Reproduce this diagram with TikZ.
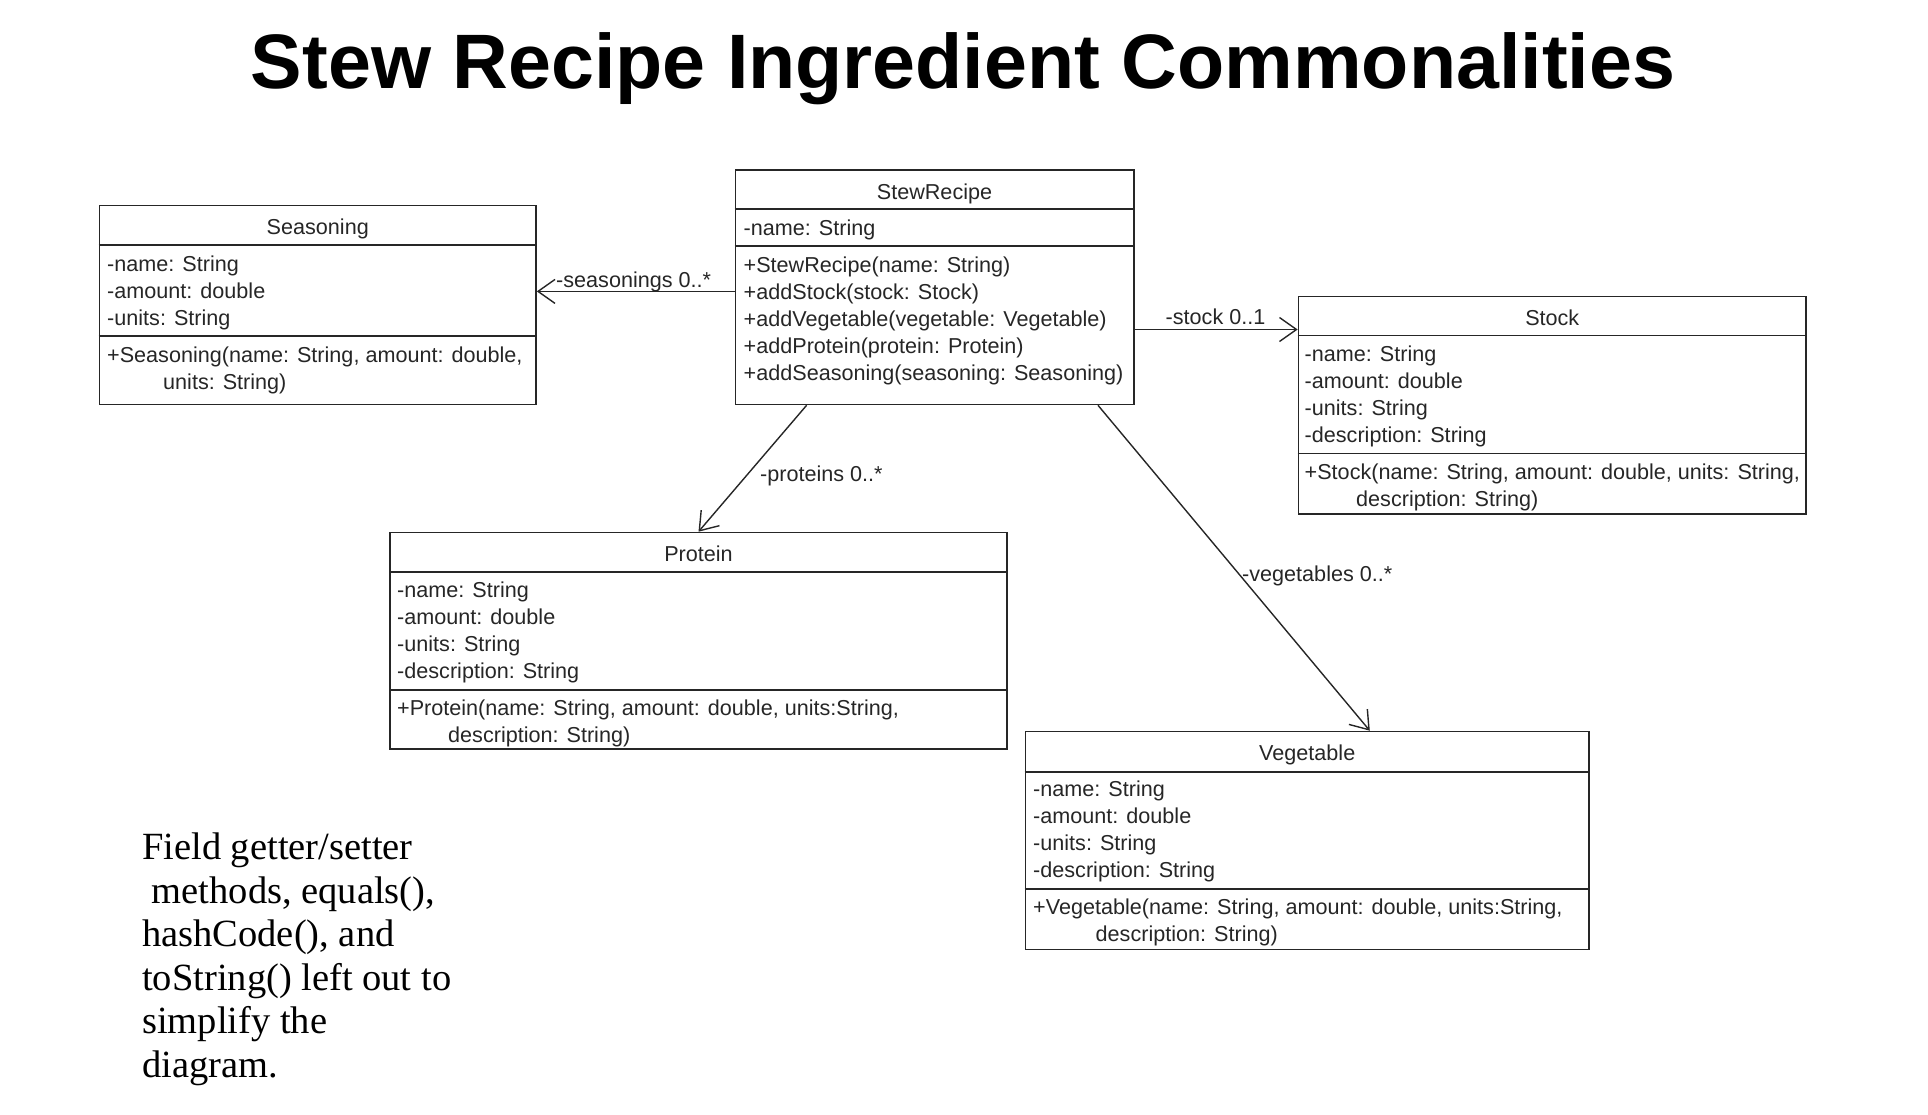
\documentclass[tikz,border=0pt]{standalone}
\usepackage{fontspec}
\setmainfont{Liberation Sans}
\newfontfamily\notefont{Liberation Serif}
\usetikzlibrary{arrows.meta}
\begin{document}
\begin{tikzpicture}[x=1pt,y=-1pt,
  classbox/.style={draw=black!85, line width=1.6pt, inner sep=0pt},
  divider/.style={draw=black!85, line width=1.6pt},
  ctext/.style={font=\fontsize{21.6}{26}\selectfont, text=black!85, inner sep=0pt, anchor=base west},
  htext/.style={font=\fontsize{21.6}{26}\selectfont, text=black!85, inner sep=0pt, anchor=base},
  assoc/.style={draw=black!85, line width=1.4pt, -{Straight Barb[length=17pt,width=24pt,line width=1.4pt]}},
  lbl/.style={font=\fontsize{21.6}{26}\selectfont, text=black!85, inner sep=0pt, anchor=base west},
  notetext/.style={font=\notefont\fontsize{38.5}{43.6}\selectfont, inner sep=0pt, anchor=base west},
]
\useasboundingbox (0,0) rectangle (1928,1114);

% title
\node[anchor=base, font=\bfseries\fontsize{77.2}{90}\selectfont, inner sep=0pt] (title) at (963,88) {Stew Recipe Ingredient Commonalities};

% ---------- StewRecipe ----------
\node[classbox, minimum width=398.4pt, minimum height=234.8pt] (stew) at (934.5,287.1) {};
\draw[divider] (stew.west |- 0,209) -- (stew.east |- 0,209);
\draw[divider] (stew.west |- 0,246) -- (stew.east |- 0,246);
\node[htext] (stewh) at (934.5,199) {StewRecipe};
\node[ctext] (stewa1) at (743.5,235) {-name: String};
\node[ctext] (stewm1) at (743.5,272) {+StewRecipe(name: String)};
\node[ctext] (stewm2) at (743.5,299) {+addStock(stock: Stock)};
\node[ctext] (stewm3) at (743.5,326) {+addVegetable(vegetable: Vegetable)};
\node[ctext] (stewm4) at (743.5,353) {+addProtein(protein: Protein)};
\node[ctext] (stewm5) at (743.5,380) {+addSeasoning(seasoning: Seasoning)};

% ---------- Seasoning ----------
\node[classbox, minimum width=436.5pt, minimum height=199.2pt] (season) at (317.75,304.9) {};
\draw[divider] (season.west |- 0,245) -- (season.east |- 0,245);
\draw[divider] (season.west |- 0,336) -- (season.east |- 0,336);
\node[htext] (seash) at (317.75,234.5) {Seasoning};
\node[ctext] (seaa1) at (107,271.5) {-name: String};
\node[ctext] (seaa2) at (107,298.5) {-amount: double};
\node[ctext] (seaa3) at (107,325.5) {-units: String};
\node[ctext] (seam1) at (107,362.5) {+Seasoning(name: String, amount: double,};
\node[ctext] (seam2) at (163,389.5) {units: String)};

% ---------- Stock ----------
\node[classbox, minimum width=507.5pt, minimum height=217.5pt] (stock) at (1552.25,405.25) {};
\draw[divider] (stock.west |- 0,335.5) -- (stock.east |- 0,335.5);
\draw[divider] (stock.west |- 0,453.5) -- (stock.east |- 0,453.5);
\node[htext] (stoh) at (1552.25,325.5) {Stock};
\node[ctext] (stoa1) at (1304.5,361.5) {-name: String};
\node[ctext] (stoa2) at (1304.5,388.5) {-amount: double};
\node[ctext] (stoa3) at (1304.5,415.5) {-units: String};
\node[ctext] (stoa4) at (1304.5,442.5) {-description: String};
\node[ctext] (stom1) at (1304.5,479) {+Stock(name: String, amount: double, units: String,};
\node[ctext] (stom2) at (1356,506) {description: String)};

% ---------- Protein ----------
\node[classbox, minimum width=617pt, minimum height=216.5pt] (protein) at (698.5,640.75) {};
\draw[divider] (protein.west |- 0,572) -- (protein.east |- 0,572);
\draw[divider] (protein.west |- 0,690) -- (protein.east |- 0,690);
\node[htext] (proh) at (698.5,561.5) {Protein};
\node[ctext] (proa1) at (397,597.5) {-name: String};
\node[ctext] (proa2) at (397,624.5) {-amount: double};
\node[ctext] (proa3) at (397,651.5) {-units: String};
\node[ctext] (proa4) at (397,678.5) {-description: String};
\node[ctext] (prom1) at (397,715.5) {+Protein(name: String, amount: double, units:String,};
\node[ctext] (prom2) at (448,742.5) {description: String)};

% ---------- Vegetable ----------
\node[classbox, minimum width=563.5pt, minimum height=218pt] (veg) at (1307.25,840.5) {};
\draw[divider] (veg.west |- 0,772) -- (veg.east |- 0,772);
\draw[divider] (veg.west |- 0,889) -- (veg.east |- 0,889);
\node[htext] (vegh) at (1307.25,760.5) {Vegetable};
\node[ctext] (vega1) at (1033,796.5) {-name: String};
\node[ctext] (vega2) at (1033,823.5) {-amount: double};
\node[ctext] (vega3) at (1033,850.5) {-units: String};
\node[ctext] (vega4) at (1033,877.5) {-description: String};
\node[ctext] (vegm1) at (1033,914.5) {+Vegetable(name: String, amount: double, units:String,};
\node[ctext] (vegm2) at (1095.5,941.5) {description: String)};

% ---------- associations ----------
\draw[assoc] (stew.west |- 0,291.4) -- (season.east |- 0,291.4);
\draw[assoc] (stew.east |- 0,329.5) -- (stock.west |- 0,329.5);
\draw[assoc] (stew.south -| 806.6,0) -- (protein.north);
\draw[assoc] (stew.south -| 1098,0) -- (veg.north -| 1369.8,0);

\node[lbl] (lseas) at (556,287) {-seasonings 0..*};
\node[lbl] (lstock) at (1165.5,324) {-stock 0..1};
\node[lbl] (lprot) at (760,481.5) {-proteins 0..*};
\node[lbl] (lveg) at (1242,581) {-vegetables 0..*};

% ---------- note ----------
\node[notetext] (note1) at (142,859.5) {Field getter/setter};
\node[notetext] (note2) at (142,903.1) {\ methods, equals(),};
\node[notetext] (note3) at (142,946.7) {hashCode(), and};
\node[notetext] (note4) at (142,990.3) {toString() left out to};
\node[notetext] (note5) at (142,1033.9) {simplify the};
\node[notetext] (note6) at (142,1077.5) {diagram.};
\end{tikzpicture}
\end{document}
